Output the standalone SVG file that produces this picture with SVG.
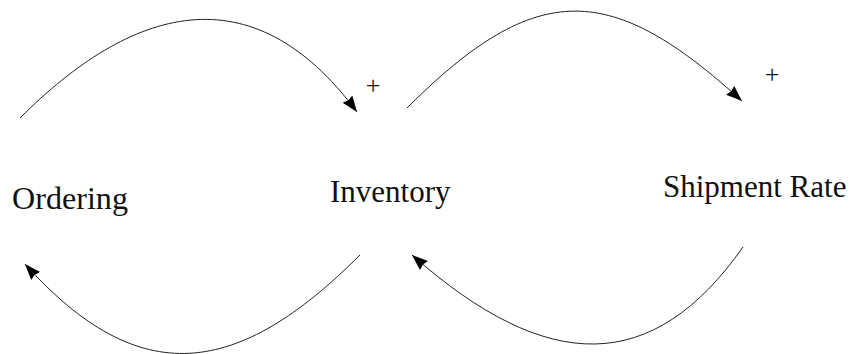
<svg xmlns="http://www.w3.org/2000/svg" width="856" height="354" viewBox="0 0 856 354">
  <style>
    .label { font-family: "Liberation Serif", "Times New Roman", serif; font-size: 31px; fill: #111; }
    .sign { font-family: "Liberation Serif", "Times New Roman", serif; font-size: 26px; fill: #111; text-anchor: middle; }
    .link { fill: none; stroke: #222; stroke-width: 1; }
  </style>
  <defs>
    <marker id="arrow" markerUnits="userSpaceOnUse" markerWidth="18" markerHeight="14" refX="16" refY="6" orient="auto">
      <path d="M0,0 L16,6 L0,12 L1.5,6 z" fill="#000"/>
    </marker>
  </defs>
  <rect width="856" height="354" fill="#fff"/>
  <g id="connectors">
    <path class="link" d="M20,118 C130,8 251,-31 357,112" marker-end="url(#arrow)"/>
    <path class="link" d="M407,108 C538,-23 612,-17 742,101" marker-end="url(#arrow)"/>
    <path class="link" d="M360,255 C238,377 140,392 25,264" marker-end="url(#arrow)"/>
    <path class="link" d="M743,247 C653,375 548,375 412,255" marker-end="url(#arrow)"/>
    <text class="sign" x="373" y="94">+</text>
    <text class="sign" x="772" y="83">+</text>
  </g>
  <g id="ordering">
    <text class="label" x="12" y="209" textLength="116" lengthAdjust="spacingAndGlyphs">Ordering</text>
  </g>
  <g id="inventory">
    <text class="label" x="330" y="202">Inventory</text>
  </g>
  <g id="shipment-rate">
    <text class="label" x="663" y="197">Shipment Rate</text>
  </g>
</svg>
